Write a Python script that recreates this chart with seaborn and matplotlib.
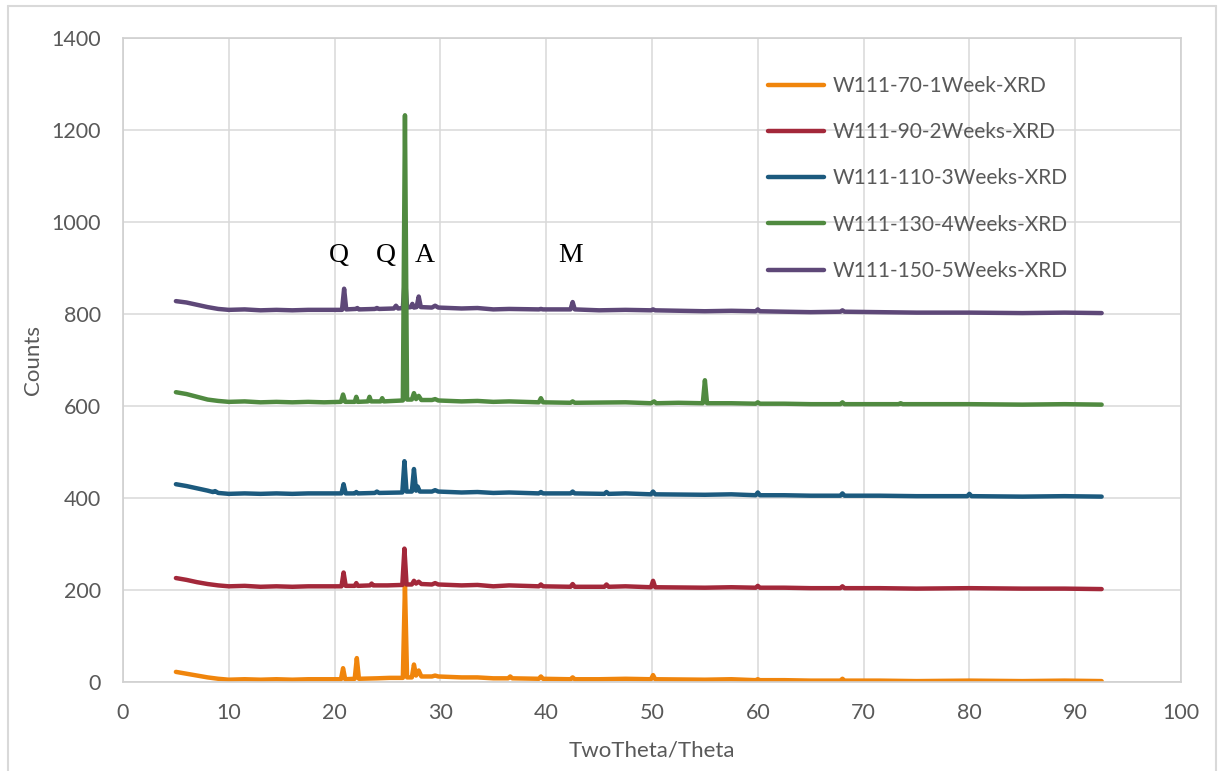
import matplotlib
matplotlib.use("Agg")
import matplotlib.pyplot as plt
from matplotlib.lines import Line2D
import seaborn as sns
import pandas as pd

# XRD scans (2-theta in degrees, counts), each sample offset by 200 counts
WEEK1 = [(5.0, 22), (6.0, 18), (7.0, 14), (8.0, 10), (9.0, 7), (10.0, 5), (11.5, 6), (13.0, 5),
         (14.5, 6), (16.0, 5), (17.5, 6), (19.0, 6), (20.6, 6), (20.8, 30), (21.0, 6), (21.9, 7),
         (22.1, 52), (22.3, 7), (24.0, 8), (25.2, 9), (26.45, 9), (26.65, 210), (26.85, 10),
         (27.3, 10), (27.5, 38), (27.7, 14), (27.95, 25), (28.2, 12), (29.2, 12), (29.5, 14),
         (29.8, 12), (32.0, 10), (33.5, 10), (35.0, 8), (36.4, 8), (36.6, 12), (36.8, 8),
         (39.3, 7), (39.5, 12), (39.7, 7), (42.3, 6), (42.5, 10), (42.7, 6), (45.0, 6), (47.5, 7),
         (49.9, 6), (50.1, 15), (50.3, 6), (55.0, 5), (57.5, 6), (59.8, 4), (60.0, 6), (60.2, 4),
         (62.5, 4), (65.0, 3), (67.8, 3), (68.0, 7), (68.2, 3), (71.5, 3), (75.0, 2), (80.0, 3),
         (85.0, 2), (89.0, 3), (92.5, 2)]

WEEK2 = [(5.0, 226), (6.0, 222), (7.0, 217), (8.0, 213), (9.0, 210), (10.0, 208), (11.5, 209),
         (13.0, 207), (14.5, 208), (16.0, 207), (17.5, 208), (19.0, 208), (20.65, 208),
         (20.85, 238), (21.05, 209), (21.9, 209), (22.05, 215), (22.2, 209), (23.35, 210),
         (23.5, 214), (23.65, 210), (25.0, 210), (26.4, 211), (26.6, 290), (26.8, 212),
         (27.3, 212), (27.5, 220), (27.7, 214), (27.95, 218), (28.2, 213), (29.2, 212),
         (29.5, 215), (29.8, 212), (32.0, 210), (33.5, 211), (35.0, 208), (36.5, 210),
         (39.3, 208), (39.5, 212), (39.7, 208), (42.3, 207), (42.5, 213), (42.7, 207),
         (45.5, 207), (45.7, 212), (45.9, 207), (47.5, 208), (49.9, 206), (50.1, 220),
         (50.3, 206), (55.0, 205), (57.5, 206), (59.8, 205), (60.0, 209), (60.2, 205),
         (62.5, 205), (65.0, 204), (67.8, 204), (68.0, 208), (68.2, 204), (71.5, 204),
         (75.0, 203), (80.0, 204), (85.0, 203), (89.0, 203), (92.5, 202)]

WEEK3 = [(5.0, 430), (6.0, 426), (7.0, 421), (8.0, 416), (8.5, 413), (8.7, 415), (9.0, 411),
         (10.0, 409), (11.5, 410), (13.0, 409), (14.5, 410), (16.0, 409), (17.5, 410),
         (19.0, 410), (20.65, 410), (20.85, 430), (21.05, 410), (21.9, 410), (22.05, 413),
         (22.2, 410), (23.8, 411), (24.0, 414), (24.2, 411), (26.4, 412), (26.6, 480),
         (26.8, 414), (27.3, 414), (27.5, 463), (27.7, 416), (27.85, 425), (28.05, 414),
         (29.2, 414), (29.5, 417), (29.8, 414), (32.0, 412), (33.5, 413), (35.0, 411),
         (36.5, 412), (39.3, 410), (39.5, 413), (39.7, 410), (42.3, 410), (42.5, 414),
         (42.7, 410), (45.5, 409), (45.7, 413), (45.9, 409), (47.5, 410), (49.9, 408),
         (50.1, 414), (50.3, 408), (55.0, 407), (57.5, 408), (59.8, 406), (60.0, 412),
         (60.2, 406), (62.5, 406), (65.0, 405), (67.8, 405), (68.0, 410), (68.2, 405),
         (71.5, 405), (75.0, 404), (79.8, 404), (80.0, 409), (80.2, 404), (85.0, 403),
         (89.0, 404), (92.5, 403)]

WEEK4 = [(5.0, 630), (6.0, 626), (7.0, 620), (8.0, 614), (9.0, 611), (10.0, 609), (11.5, 610),
         (13.0, 608), (14.5, 609), (16.0, 608), (17.5, 609), (19.0, 608), (20.6, 609),
         (20.8, 625), (21.0, 609), (21.9, 609), (22.05, 620), (22.2, 609), (23.15, 610),
         (23.3, 620), (23.45, 610), (24.35, 610), (24.5, 617), (24.65, 610), (25.5, 611),
         (26.45, 612), (26.65, 1232), (26.85, 614), (27.3, 614), (27.5, 628), (27.7, 615),
         (27.95, 622), (28.2, 613), (29.2, 613), (29.5, 615), (29.8, 612), (32.0, 610),
         (33.5, 611), (35.0, 609), (36.5, 610), (39.3, 608), (39.5, 617), (39.7, 608),
         (42.3, 607), (42.5, 610), (42.7, 607), (47.5, 608), (49.9, 606), (50.2, 610),
         (50.4, 606), (52.5, 607), (54.8, 606), (55.0, 656), (55.2, 606), (57.5, 606),
         (59.8, 605), (60.0, 608), (60.2, 605), (62.5, 605), (65.0, 604), (67.8, 604),
         (68.0, 608), (68.2, 604), (73.3, 604), (73.5, 606), (73.7, 604), (80.0, 604),
         (85.0, 603), (89.0, 604), (92.5, 603)]

WEEK5 = [(5.0, 828), (6.0, 825), (7.0, 820), (8.0, 815), (9.0, 811), (10.0, 809), (11.5, 810),
         (13.0, 808), (14.5, 809), (16.0, 808), (17.5, 809), (19.0, 809), (20.7, 809),
         (20.9, 855), (21.1, 810), (22.0, 811), (22.15, 813), (22.3, 810), (23.8, 811),
         (24.0, 813), (24.2, 811), (25.6, 812), (25.8, 818), (26.0, 812), (26.45, 813),
         (26.65, 882), (26.85, 814), (27.2, 815), (27.35, 822), (27.5, 814), (27.75, 815),
         (27.95, 838), (28.15, 815), (29.2, 814), (29.5, 818), (29.8, 814), (32.0, 812),
         (33.5, 813), (35.0, 810), (36.5, 811), (39.3, 810), (39.5, 811), (39.7, 810),
         (42.3, 810), (42.5, 826), (42.7, 810), (45.0, 808), (47.5, 809), (49.9, 808),
         (50.1, 810), (50.3, 808), (55.0, 806), (57.5, 807), (59.8, 806), (60.0, 810),
         (60.2, 806), (62.5, 805), (65.0, 804), (67.8, 805), (68.0, 808), (68.2, 805),
         (71.5, 804), (75.0, 803), (80.0, 803), (85.0, 802), (89.0, 803), (92.5, 802)]

SAMPLES = ["W111-70-1Week-XRD", "W111-90-2Weeks-XRD", "W111-110-3Weeks-XRD",
           "W111-130-4Weeks-XRD", "W111-150-5Weeks-XRD"]
SCANS = [WEEK1, WEEK2, WEEK3, WEEK4, WEEK5]
COLORS = ["#F0850C", "#A3283A", "#1C5A7E", "#508A40", "#5E4878"]

# Phase labels above the top scan
PHASE_LABELS = ["Q", "Q", "A", "M"]
PHASE_X = [20.4, 24.8, 28.5, 42.3]
PHASE_Y = [928, 928, 928, 928]

X_TICKS = list(range(0, 101, 10))
Y_TICKS = list(range(0, 1401, 200))

rows = []
for name, scan in zip(SAMPLES, SCANS):
    for tt, counts in scan:
        rows.append({"sample": name, "two_theta": tt, "counts": counts})
df = pd.DataFrame(rows)

sns.set_theme(style="white")
plt.rcParams["font.family"] = ["Lato", "DejaVu Sans"]

fig = plt.figure(figsize=(12.18, 7.71), dpi=100)
ax = fig.add_axes([123 / 1218, 1 - 682 / 771, (1181 - 123) / 1218, (682 - 38) / 771])

sns.lineplot(data=df, x="two_theta", y="counts", hue="sample", hue_order=SAMPLES,
             palette=COLORS, estimator=None, sort=False, units="sample",
             linewidth=3.2, ax=ax, legend=True)

zorders = [2.1, 2.2, 2.3, 2.5, 2.4]
for line, z in zip(ax.lines, zorders):
    line.set_zorder(z)
    line.set_solid_joinstyle("round")
    line.set_solid_capstyle("round")

ax.set_xlim(0, 100)
ax.set_ylim(0, 1400)
ax.set_xticks(X_TICKS)
ax.set_yticks(Y_TICKS)
ax.grid(True, color="#d9d9d9", linewidth=1.1)
ax.set_axisbelow(True)
for side in ["left", "bottom", "top", "right"]:
    ax.spines[side].set_visible(True)
    ax.spines[side].set_color("#d0d0d0")
    ax.spines[side].set_linewidth(1.2)
ax.tick_params(length=0, labelsize=15.5, colors="#595959")
ax.tick_params(axis="y", pad=16)
ax.tick_params(axis="x", pad=15)
ax.set_xlabel("TwoTheta/Theta", fontsize=16, color="#595959", labelpad=13)
ax.set_ylabel("Counts", fontsize=16, color="#595959", labelpad=6)

for lab, px, py in zip(PHASE_LABELS, PHASE_X, PHASE_Y):
    ax.text(px, py, lab, family="Liberation Serif", fontsize=20, color="black",
            ha="center", va="center")

handles, labels = ax.get_legend_handles_labels()
leg = ax.legend(handles, labels, loc="upper left", bbox_to_anchor=(768 / 1218, 1 - 76 / 771),
                bbox_transform=fig.transFigure, frameon=False, fontsize=15,
                handlelength=2.7, handletextpad=0.4, labelspacing=1.26,
                borderpad=0, borderaxespad=0)
for t in leg.get_texts():
    t.set_color("#595959")
for h in leg.legend_handles:
    h.set_linewidth(3.2)

# Chart frame
for (x0, y0, x1, y1) in [(8, 0, 8, 765), (8, 765, 1216, 765), (1216, 765, 1216, 0)]:
    fig.add_artist(Line2D([x0 / 1218, x1 / 1218], [y0 / 771, y1 / 771],
                          color="#d9d9d9", linewidth=1.5, transform=fig.transFigure))

fig.savefig("out.png", dpi=100)
